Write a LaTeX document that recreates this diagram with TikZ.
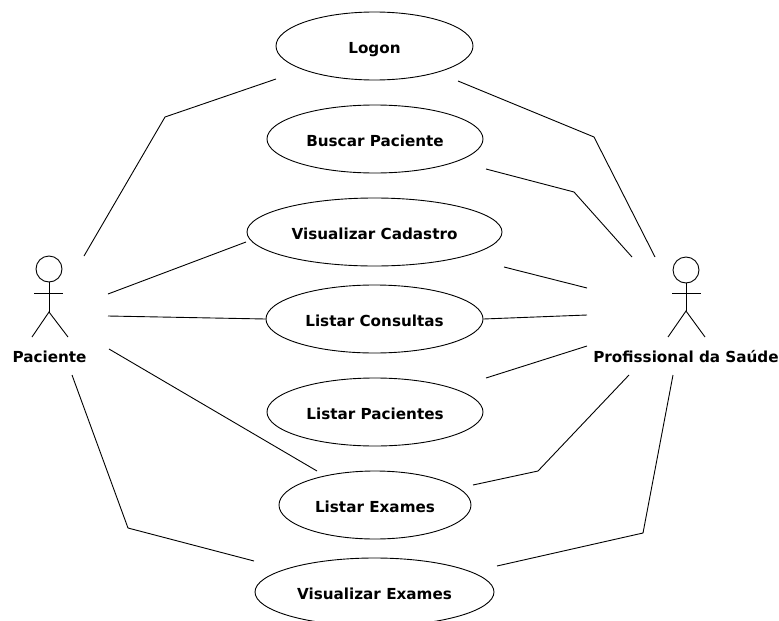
\documentclass[tikz,border=0pt]{standalone}
\usepackage{fontspec}
\setmainfont{DejaVu Sans}
\usetikzlibrary{shapes.geometric}

\tikzset{
    usecase/.style={draw, ellipse, minimum width=#1, minimum height=68pt, inner sep=0pt, text height=14.5pt, text depth=0pt, font=\fontsize{15.2}{16}\selectfont\bfseries},
    actorname/.style={inner sep=0pt, anchor=base, font=\fontsize{15.2}{16}\selectfont\bfseries},
    assoc/.style={line join=round}
}

\begin{document}
\begin{tikzpicture}[x=1pt, y=-1pt, line width=0.9pt]
    \clip (0, 0) rectangle (779, 621);
    \useasboundingbox (0, 0) rectangle (779, 621);

    % use cases
    \node[usecase=197pt] (logon) at (374.5, 46) {Logon};
    \node[usecase=216pt] (buscar) at (375, 139) {Buscar Paciente};
    \node[usecase=255pt] (cadastro) at (374.5, 232) {Visualizar Cadastro};
    \node[usecase=217pt] (consultas) at (374.5, 319) {Listar Consultas};
    \node[usecase=216pt] (pacientes) at (375, 412) {Listar Pacientes};
    \node[usecase=192pt] (listexames) at (375, 505) {Listar Exames};
    \node[usecase=239pt] (visexames) at (374.5, 592) {Visualizar Exames};

    % actors
    \node[actorname] (paciente) at (49.5, 362) {Paciente};
    \draw (49, 269) circle (13);
    \draw (49, 282) -- (49, 312);
    \draw (34, 293) -- (63, 293);
    \draw (32, 337) -- (49, 312) -- (68, 337);

    \node[actorname] (profissional) at (686, 362) {Profissional da Saúde};
    \draw (686, 270) circle (13);
    \draw (686, 283) -- (686, 311);
    \draw (672, 293) -- (701, 293);
    \draw (668, 337) -- (686, 311) -- (705, 337);

    % free ends of the lines on the Paciente side
    \coordinate (pacA) at (84, 256);
    \coordinate (pacB) at (108, 294);
    \coordinate (pacC) at (108, 316);
    \coordinate (pacD) at (109, 349);
    \coordinate (pacE) at (72, 375);
    \coordinate (logonA) at (276, 79);
    \coordinate (cadastroA) at (246, 242);
    \coordinate (listexamesA) at (317, 471);
    \coordinate (visexamesA) at (254, 561);

    \draw[assoc] (pacA) -- (165, 117) -- (logonA);
    \draw[assoc] (pacB) -- (cadastroA);
    \draw[assoc] (pacC) -- (consultas.west);
    \draw[assoc] (pacD) -- (listexamesA);
    \draw[assoc] (pacE) -- (128, 528) -- (visexamesA);

    % free ends of the lines on the Profissional side
    \coordinate (proA) at (655, 257);
    \coordinate (proB) at (632, 257);
    \coordinate (proC) at (587, 288);
    \coordinate (proD) at (587, 315);
    \coordinate (proE) at (587, 346);
    \coordinate (proF) at (629, 375);
    \coordinate (proG) at (673, 375);
    \coordinate (logonB) at (458, 81);
    \coordinate (buscarB) at (486, 169);
    \coordinate (cadastroB) at (504, 267);
    \coordinate (pacientesB) at (486, 378);
    \coordinate (listexamesB) at (473, 485);
    \coordinate (visexamesB) at (497, 566);

    \draw[assoc] (logonB) -- (594, 137) -- (proA);
    \draw[assoc] (buscarB) -- (574, 192) -- (proB);
    \draw[assoc] (cadastroB) -- (proC);
    \draw[assoc] (consultas.east) -- (proD);
    \draw[assoc] (pacientesB) -- (proE);
    \draw[assoc] (listexamesB) -- (538, 471) -- (proF);
    \draw[assoc] (visexamesB) -- (643, 533) -- (proG);
\end{tikzpicture}
\end{document}
